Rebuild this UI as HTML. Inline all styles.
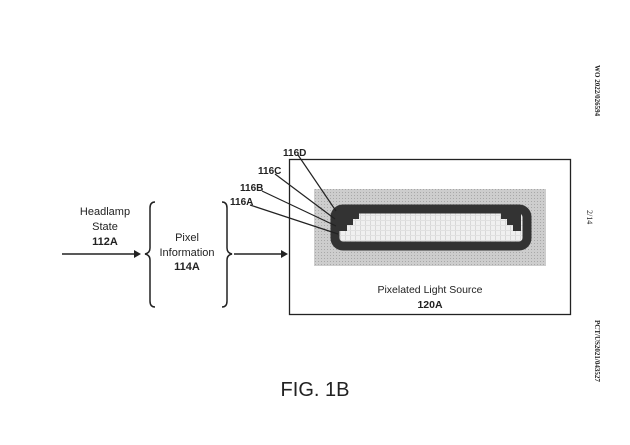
<!DOCTYPE html>
<html><head><style>body{margin:0;background:#fff}svg{display:block}</style></head>
<body>
<svg width="630" height="445" viewBox="0 0 630 445" xmlns="http://www.w3.org/2000/svg" font-family="Liberation Sans, sans-serif">
<defs>
<pattern id="g" width="3" height="3" patternUnits="userSpaceOnUse"><rect width="3" height="3" fill="#cdcdcd"/><rect width="1" height="1" fill="#a8a8a8"/></pattern>
<pattern id="w" width="5" height="5" patternUnits="userSpaceOnUse"><rect width="5" height="5" fill="#f0f0f0"/><rect width="1" height="5" fill="#d8d8d8"/><rect width="5" height="1" fill="#e0e0e0"/></pattern>
</defs>
<g font-size="11" text-anchor="middle" fill="#222">
<text x="105" y="215">Headlamp</text>
<text x="105" y="230">State</text>
<text x="105" y="245" font-weight="bold">112A</text>
<text x="187" y="241">Pixel</text>
<text x="187" y="256">Information</text>
<text x="187" y="270" font-weight="bold">114A</text>
</g>
<g stroke="#222" stroke-width="1.5" fill="none">
<line x1="62" y1="254" x2="134" y2="254"/>
<line x1="234" y1="254" x2="281" y2="254"/>
<path d="M155 202 Q150 202 150 208 L150 248 Q150 253 145 254 Q150 255 150 260 L150 301 Q150 307 155 307"/>
<path d="M222 202 Q227 202 227 208 L227 248 Q227 253 232 254 Q227 255 227 260 L227 301 Q227 307 222 307"/>
</g>
<path d="M134 250 L141 254 L134 258Z" fill="#222"/>
<path d="M281 250 L288 254 L281 258Z" fill="#222"/>
<rect x="289.5" y="159.5" width="281" height="155" fill="#fff" stroke="#222" stroke-width="1.3"/>
<rect x="314" y="189" width="232" height="77" fill="url(#g)"/>
<rect x="335" y="209" width="192" height="37" rx="8" fill="url(#w)" stroke="#333" stroke-width="9"/>
<path d="M339 213 h20 v6 h-6 v6 h-6 v6 h-8z M521 213 h-20 v6 h6 v6 h6 v6 h8z" fill="#333"/>
<g stroke="#222" stroke-width="1.2">
<line x1="298" y1="155" x2="336" y2="211"/>
<line x1="275" y1="174" x2="335" y2="219"/>
<line x1="262" y1="191" x2="336" y2="226"/>
<line x1="250" y1="205" x2="338" y2="234"/>
</g>
<g font-size="10" font-weight="bold" fill="#222">
<text x="283" y="156">116D</text>
<text x="258" y="174">116C</text>
<text x="240" y="191">116B</text>
<text x="230" y="205">116A</text>
</g>
<text x="430" y="293" font-size="10.5" text-anchor="middle" fill="#222">Pixelated Light Source</text>
<text x="430" y="308" font-size="10.5" text-anchor="middle" font-weight="bold" fill="#222">120A</text>
<text x="315" y="396" font-size="20" text-anchor="middle" fill="#222">FIG. 1B</text>
<g font-family="Liberation Serif, serif" font-size="7" fill="#222" font-weight="bold">
<text transform="translate(595,65) rotate(90)">WO 2022/026594</text>
<text transform="translate(587,210) rotate(90)" font-weight="normal" font-size="8">2/14</text>
<text transform="translate(595,320) rotate(90)">PCT/US2021/043527</text>
</g>
</svg>
</body></html>
